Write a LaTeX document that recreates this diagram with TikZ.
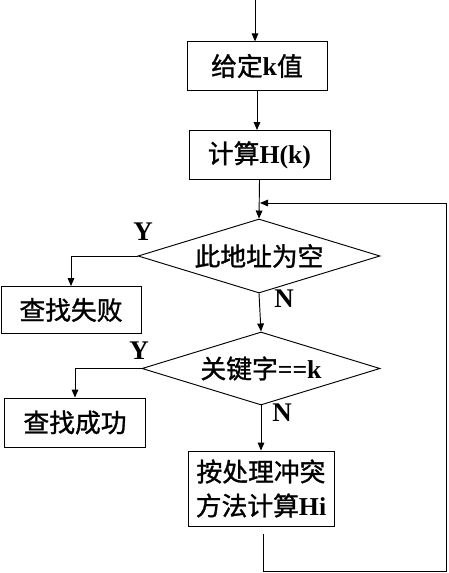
\documentclass[tikz,border=0pt]{standalone}
\usepackage{fontspec}
\setmainfont{Liberation Serif}
\newfontfamily\cjk{Noto Sans CJK SC}[FakeBold=1.2]
\usetikzlibrary{shapes.geometric,arrows.meta}

\newcommand{\zh}[1]{{\cjk\mdseries #1}}

\tikzset{
  box/.style={draw, line width=0.8pt, inner sep=0pt, align=center,
    font=\fontsize{22}{29}\selectfont\bfseries},
  test/.style={draw, diamond, line width=0.8pt, inner sep=0pt, aspect=3.2,
    font=\fontsize{22}{26}\selectfont\bfseries},
  tag/.style={font=\fontsize{23}{26}\selectfont\bfseries},
  arr/.style={line width=0.8pt, -{Triangle[length=2.4mm,width=2mm]}},
  wire/.style={line width=0.8pt}
}

\begin{document}
\begin{tikzpicture}[x=0.03cm,y=-0.03cm]
\useasboundingbox (0,0) rectangle (448,573);

\node[box, minimum width=4.2cm, minimum height=1.45cm] (give) at (257,66) {\zh{给定}k\zh{值}};
\node[box, minimum width=4.23cm, minimum height=1.47cm] (hash) at (259.5,155) {\zh{计算}H(k)};

\node[test, minimum width=7.26cm, minimum height=2.22cm] (empty) at (259,256) {\zh{此地址为空}};
\node[box, minimum width=4.2cm, minimum height=1.41cm] (fail) at (71,310) {\zh{查找失败}};

\node[test, minimum width=7.14cm, minimum height=2.19cm] (key) at (261,368.5) {\zh{关键字}==k};
\node[box, minimum width=4.23cm, minimum height=1.47cm] (succ) at (75,422.5) {\zh{查找成功}};

\node[box, minimum width=4.38cm, minimum height=2.25cm] (rehash) at (261,488.5) {\zh{按处理冲突}\\\zh{方法计算}Hi};

% labels
\node[tag] (y1) at (143,232) {Y};
\node[tag] (n1) at (284,299) {N};
\node[tag] (y2) at (139,351) {Y};
\node[tag] (n2) at (282,413) {N};

% flow
\coordinate (start) at (255,0);
\draw[arr] (start) -- (start |- give.north);
\draw[arr] (give.south) -- (give.south |- hash.north);
\draw[arr] (hash.south) -- (empty.north);
\draw[arr] (empty.west) -| (fail.north);
\draw[arr] (empty.south) -- (key.north);
\draw[arr] (key.west) -| (succ.north);
\draw[arr] (key.south) -- (rehash.north);

% back to the test
\coordinate (back) at (263,534);
\coordinate (loopx) at (446,571);
\coordinate (join) at (260,203);
\draw[arr] (back) |- (loopx) |- (join);

\end{tikzpicture}
\end{document}
